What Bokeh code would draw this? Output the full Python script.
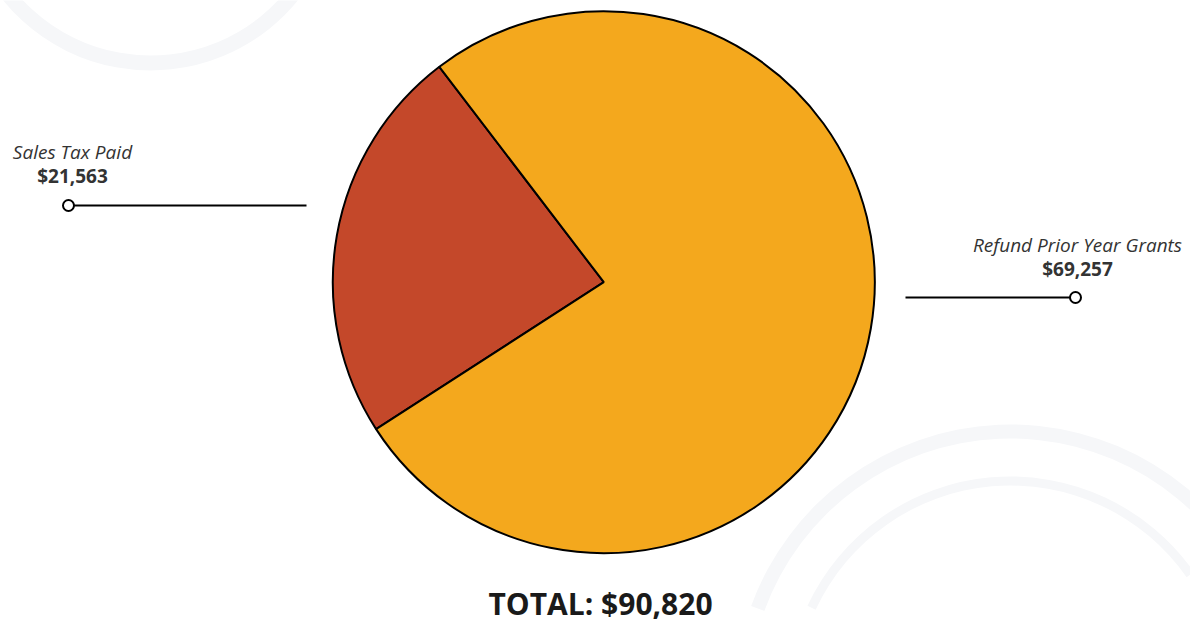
import math
from bokeh.plotting import figure
from bokeh.models import Range1d, ColumnDataSource
from bokeh.core.properties import value
from bokeh.embed import file_html
from bokeh.resources import INLINE

# ---- data ----
categories = ["Sales Tax Paid", "Refund Prior Year Grants"]
amounts = [21563, 69257]
slice_colors = ["#C4482A", "#F4A81D"]
total = sum(amounts)

# ---- layout (screen px -> data units 1:1, y flipped) ----
W, H = 1190, 625
def sy(y):
    return H - y

p = figure(width=W, height=H, output_backend="svg", toolbar_location=None,
           x_range=Range1d(0, W), y_range=Range1d(0, H), min_border=0)
p.axis.visible = False
p.grid.visible = False
p.outline_line_color = None
p.background_fill_color = "white"
p.border_fill_color = "white"

# faint decorative background swirls
deco = "#f6f7f9"
p.annular_wedge(x=[1010], y=[sy(700)], inner_radius=[262], outer_radius=[276],
                start_angle=[math.radians(25)], end_angle=[math.radians(160)],
                fill_color=deco, line_color=None)
p.annular_wedge(x=[1010], y=[sy(700)], inner_radius=[215], outer_radius=[224],
                start_angle=[math.radians(35)], end_angle=[math.radians(155)],
                fill_color=deco, line_color=None)
p.annular_wedge(x=[150], y=[sy(-120)], inner_radius=[175], outer_radius=[190],
                start_angle=[math.radians(195)], end_angle=[math.radians(325)],
                fill_color=deco, line_color=None)

# ---- pie ----
cx, cy, r = 603.3, sy(281.7), 271
fracs = [a / total for a in amounts]
spans = [f * 2 * math.pi for f in fracs]
first_mid = math.radians(170.1)
starts, ends = [], []
a0 = first_mid - spans[0] / 2
for s in spans:
    starts.append(a0)
    ends.append(a0 + s)
    a0 += s

src = ColumnDataSource(dict(cat=categories, amt=amounts, color=slice_colors,
                            start=starts, end=ends))
p.wedge(x=cx, y=cy, radius=r, start_angle="start", end_angle="end",
        fill_color="color", line_color="black", line_width=2, source=src)

# ---- labels ----
label_font = value("Open Sans")
txt_color = "#333333"
lx = [72, 1077]
ly_name = [sy(151), sy(244)]
ly_amt = [sy(175), sy(268)]
p.text(x=lx, y=ly_name, text=categories, text_font=label_font,
       text_font_style="italic", text_font_size="19px", text_align="center",
       text_baseline="middle", text_color=txt_color)
p.text(x=lx, y=ly_amt, text=[f"${a:,}" for a in amounts], text_font=label_font,
       text_font_style="bold", text_font_size="19px", text_align="center",
       text_baseline="middle", text_color=txt_color)

# leader lines
p.segment(x0=[68, 905], y0=[sy(205), sy(297)], x1=[306, 1075], y1=[sy(205), sy(297)],
          line_color="black", line_width=2)
p.scatter(x=[68, 1075], y=[sy(205), sy(297)], size=11, marker="circle",
          fill_color="white", line_color="black", line_width=2)

# total
p.text(x=[600], y=[sy(603)], text=[f"TOTAL: ${total:,}"], text_font=label_font,
       text_font_style="bold", text_font_size="30px", text_align="center",
       text_baseline="middle", text_color="#1a1a1a")

open("out.html", "w").write(file_html(p, INLINE))
